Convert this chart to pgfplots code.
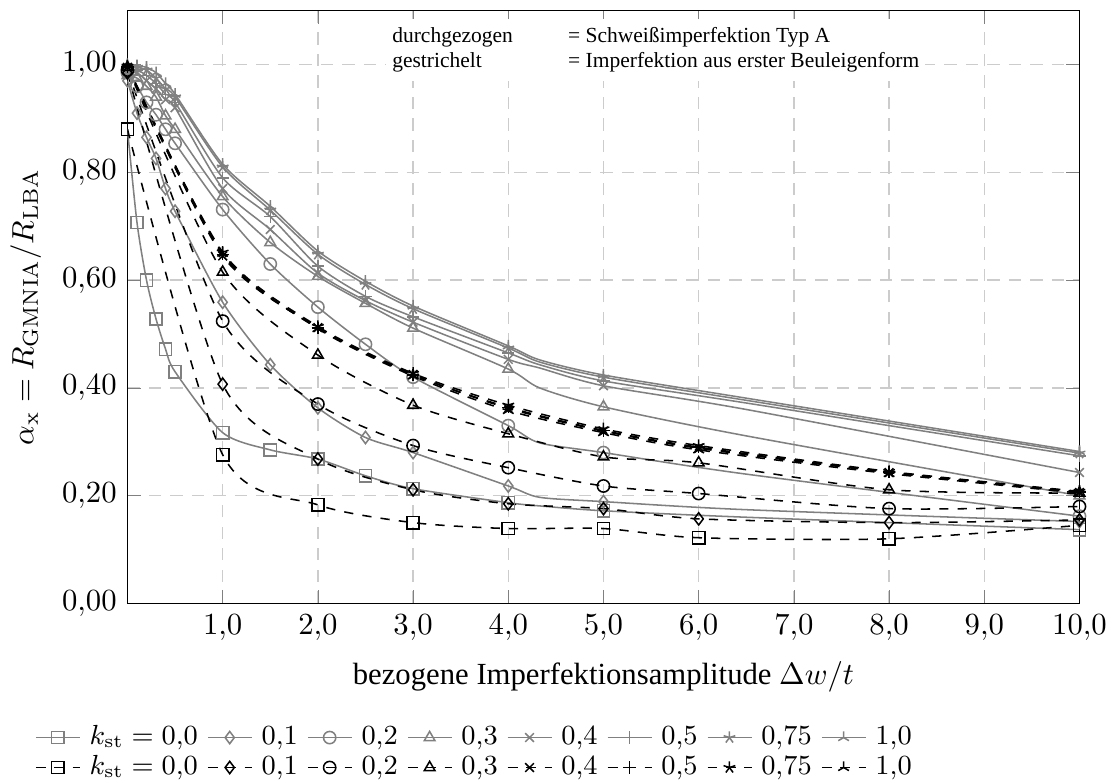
\documentclass[border=0pt]{standalone}
\usepackage[no-math]{fontspec}
\setmainfont{Liberation Serif}
\usepackage{pgfplots}
\pgfplotsset{compat=1.18}

\definecolor{solidgray}{gray}{0.5}

% solid = welding imperfection type A, dashed = first buckling eigenmode
\pgfplotsset{
  sg/.style={solidgray, smooth, tension=0.45, line width=0.5pt, mark options={solid, solidgray},
    mark indices={1,2,3,4,5,6,7,8,9,10,11,12,14,16}},
  dk/.style={black, dashed, smooth, tension=0.45, line width=0.5pt, mark options={solid, black}},
}

\begin{document}
\begin{tikzpicture}
\begin{axis}[
  scale only axis,
  width=310pt, height=193pt,
  xmin=0, xmax=10, ymin=0, ymax=1.1,
  xtick={1,2,3,4,5,6,7,8,9,10},
  ytick={0,0.2,0.4,0.6,0.8,1.0},
  xticklabel style={/pgf/number format/.cd, fixed, fixed zerofill, precision=1, use comma},
  yticklabel style={/pgf/number format/.cd, fixed, fixed zerofill, precision=2, use comma},
  grid=major,
  major grid style={gray!40, dash pattern=on 4pt off 3pt, line width=0.5pt},
  xlabel={bezogene Imperfektionsamplitude $\Delta w/t$},
  ylabel={$\alpha_{\mathrm{x}} = R_{\mathrm{GMNIA}}/R_{\mathrm{LBA}}$},
  legend columns=8,
  legend cell align=left,
  legend style={draw=none, at={(0.365,-0.2)}, anchor=north, inner sep=0pt, font=\small,
    row sep=0pt, nodes={inner sep=1pt},
    /tikz/every odd column/.append style={column sep=2pt},
    /tikz/every even column/.append style={column sep=2pt}},
  legend image code/.code={\draw[#1, mark indices={2}] plot coordinates {(0cm,0cm) (0.25cm,0cm) (0.5cm,0cm)};},
]

% ---- solid, gray ----
\addplot[sg, mark=square] table {
0    0.88
0.1  0.707
0.2  0.600
0.3  0.528
0.4  0.472
0.5  0.430
1.0  0.317
1.5  0.285
2.0  0.268
2.5  0.237
3.0  0.213
4.0  0.187
4.33 0.181
5.0  0.172
6.5  0.160
10   0.137
};
\addplot[sg, mark=diamond] table {
0    0.97
0.1  0.91
0.2  0.865
0.3  0.826
0.4  0.77
0.5  0.728
1.0  0.559
1.5  0.443
2.0  0.363
2.5  0.308
3.0  0.28
4.0  0.218
4.33 0.197
5.0  0.189
6.5  0.174
10   0.152
};
\addplot[sg, mark=o] table {
0    0.985
0.1  0.96
0.2  0.93
0.3  0.907
0.4  0.88
0.5  0.854
1.0  0.731
1.5  0.63
2.0  0.55
2.5  0.481
3.0  0.42
4.0  0.33
4.33 0.298
5.0  0.28
6.5  0.24
10   0.162
};
\addplot[sg, mark=triangle] table {
0    0.98
0.1  0.975
0.2  0.96
0.3  0.94
0.4  0.905
0.5  0.88
1.0  0.755
1.5  0.67
2.0  0.607
2.5  0.557
3.0  0.511
4.0  0.435
4.33 0.40
5.0  0.365
6.5  0.311
10   0.20
};
\addplot[sg, mark=x] table {
0    0.985
0.1  0.985
0.2  0.97
0.3  0.955
0.4  0.935
0.5  0.92
1.0  0.77
1.5  0.694
2.0  0.613
2.5  0.562
3.0  0.522
4.0  0.453
4.33 0.437
5.0  0.404
6.5  0.36
10   0.243
};
\addplot[sg, mark=+] table {
0    0.99
0.1  0.99
0.2  0.98
0.3  0.965
0.4  0.945
0.5  0.93
1.0  0.79
1.5  0.718
2.0  0.626
2.5  0.57
3.0  0.532
4.0  0.465
4.33 0.443
5.0  0.413
6.5  0.372
10   0.274
};
\addplot[sg, mark=star] table {
0    0.995
0.1  0.995
0.2  0.99
0.3  0.975
0.4  0.955
0.5  0.94
1.0  0.81
1.5  0.73
2.0  0.648
2.5  0.592
3.0  0.547
4.0  0.474
4.33 0.448
5.0  0.42
6.5  0.377
10   0.279
};
\addplot[sg, mark=Mercedes star] table {
0    1.0
0.1  0.998
0.2  0.995
0.3  0.985
0.4  0.965
0.5  0.945
1.0  0.815
1.5  0.737
2.0  0.654
2.5  0.598
3.0  0.552
4.0  0.478
4.33 0.452
5.0  0.424
6.5  0.381
10   0.282
};

% ---- dashed, black ----
\addplot[dk, mark=square] table {
0  0.88
1  0.276
2  0.183
3  0.150
4  0.139
5  0.139
6  0.122
8  0.120
10 0.145
};
\addplot[dk, mark=diamond] table {
0  0.985
1  0.407
2  0.268
3  0.211
4  0.185
5  0.176
6  0.157
8  0.150
10 0.155
};
\addplot[dk, mark=o] table {
0  0.99
1  0.524
2  0.370
3  0.293
4  0.252
5  0.218
6  0.204
8  0.176
10 0.180
};
\addplot[dk, mark=triangle] table {
0  0.995
1  0.615
2  0.461
3  0.368
4  0.315
5  0.272
6  0.261
8  0.211
10 0.205
};
\addplot[dk, mark=x] table {
0  0.995
1  0.645
2  0.512
3  0.425
4  0.362
5  0.320
6  0.288
8  0.243
10 0.206
};
\addplot[dk, mark=+] table {
0  0.996
1  0.648
2  0.511
3  0.424
4  0.364
5  0.321
6  0.290
8  0.244
10 0.207
};
\addplot[dk, mark=star] table {
0  0.997
1  0.652
2  0.514
3  0.427
4  0.368
5  0.324
6  0.293
8  0.245
10 0.208
};
\addplot[dk, mark=Mercedes star] table {
0  0.998
1  0.650
2  0.510
3  0.422
4  0.358
5  0.317
6  0.285
8  0.241
10 0.205
};

\legend{$k_{\mathrm{st}}=0{,}0$, $0{,}1$, $0{,}2$, $0{,}3$, $0{,}4$, $0{,}5$, $0{,}75$, $1{,}0$,
        $k_{\mathrm{st}}=0{,}0$, $0{,}1$, $0{,}2$, $0{,}3$, $0{,}4$, $0{,}5$, $0{,}75$, $1{,}0$}

\node[fill=white, inner sep=2pt, anchor=north, font=\scriptsize] at (axis cs:5.55,1.085) {%
  \begin{tabular}{@{}l@{\hspace{18pt}}l@{}}
    durchgezogen & = Schweißimperfektion Typ A\\
    gestrichelt  & = Imperfektion aus erster Beuleigenform
  \end{tabular}};
\end{axis}
\path (current axis.north) ++(0,3.5pt);
\end{tikzpicture}
\end{document}
